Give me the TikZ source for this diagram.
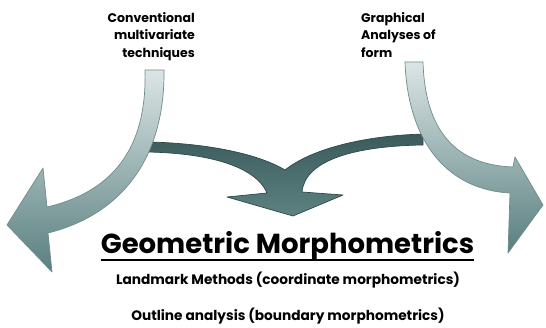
\documentclass[tikz,border=0pt]{standalone}
\usepackage{fontspec}
\setmainfont{Poppins}
\begin{document}
\begin{tikzpicture}[x=1pt,y=-1pt,
  sidearrow/.style={top color=sideTop, middle color=sideMid, bottom color=sideBot, draw=sideEdge, line width=0.7pt, line join=round},
  midarrow/.style={top color=midTop, bottom color=midBot, draw=midEdge, line width=0.7pt, line join=round},
  lbl/.style={inner sep=0pt, font=\bfseries\fontsize{12.5}{17.5}\selectfont},
  sub/.style={inner sep=0pt, font=\bfseries\fontsize{13.7}{16}\selectfont}]
\definecolor{sideTop}{HTML}{DCE5E5}
\definecolor{sideMid}{HTML}{A9BDBD}
\definecolor{sideBot}{HTML}{587F7F}
\definecolor{sideEdge}{HTML}{6F8C8C}
\definecolor{midTop}{HTML}{3C5B5B}
\definecolor{midBot}{HTML}{5C8282}
\definecolor{midEdge}{HTML}{2E4848}
\useasboundingbox[fill=white] (0,0) rectangle (546,328);

% middle (dark) arrow, behind the side arrows
\path[midarrow] (148,142) .. controls (200,143) and (255,152) .. (285,170)
  .. controls (310,150) and (360,136) .. (423,134) -- (423,145)
  .. controls (355,146) and (305,160) .. (302,192)
  -- (343,195) -- (293,216) -- (227,197) -- (267,193)
  .. controls (255,165) and (205,153) .. (147,152) -- cycle;

% left arrow
\path[sidearrow] (145,70) -- (164,70)
  .. controls (165,160) and (120,215) .. (48,233)
  -- (52,272) -- (7,225) -- (43,168) -- (47,207)
  .. controls (120,190) and (147,140) .. (145,70) -- cycle;

% right arrow
\path[sidearrow] (405,62) -- (423,62)
  .. controls (425,130) and (455,165) .. (513,167)
  -- (515,157) -- (543,205) -- (508,253) -- (510,193)
  .. controls (450,190) and (408,145) .. (405,62) -- cycle;

\node[lbl, align=right, anchor=north east] (conv) at (195,12) {Conventional\\multivariate\\techniques};
\node[lbl, align=left, anchor=north west] (graph) at (361,12) {Graphical\\Analyses of\\form};

\node[inner sep=0pt, anchor=base, font=\bfseries\fontsize{27.5}{32}\selectfont] (title) at (287.5,254) {Geometric Morphometrics};
\draw[line width=2.2pt] ([yshift=-6pt]title.base west) -- ([yshift=-6pt]title.base east);
\node[sub, anchor=base] (land) at (288,285) {Landmark Methods (coordinate morphometrics)};
\node[sub, anchor=base] (outl) at (288,321) {Outline analysis (boundary morphometrics)};
\end{tikzpicture}
\end{document}
